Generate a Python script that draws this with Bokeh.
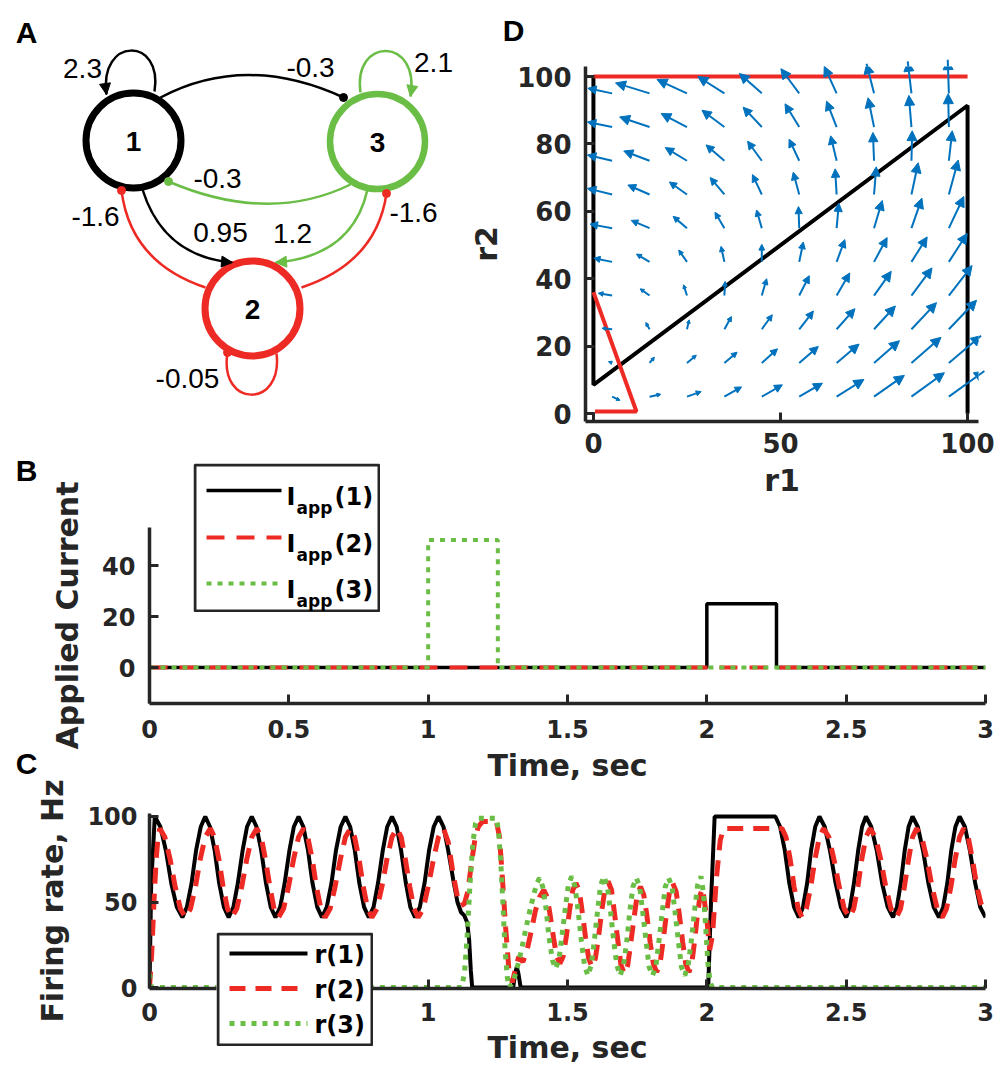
import math
from bokeh.plotting import figure
from bokeh.models import (Range1d, FixedTicker, Arrow, NormalHead, ColumnDataSource)
from bokeh.layouts import column
from bokeh.embed import file_html
from bokeh.resources import INLINE
from bokeh.core.properties import value, field

BLACK = "#000000"
RED = "#EE2A24"
GREEN = "#6ABD45"
BLUE = "#0072BD"
AXC = "#262626"
TXT_FONT = "Liberation Sans"
AX_FONT = "DejaVu Sans"

# ======================= DATA =======================
# ---- Panel A: network ----
node_labels = ["1", "2", "3"]
self_weights = ["2.3", "-0.05", "2.1"]              # self loops of 1, 2, 3
pair_weights = ["-0.3", "-0.3", "0.95", "1.2", "-1.6", "-1.6"]  # 1->3, 3->1, 1->2, 3->2, 2->1, 2->3

# ---- Panel B: applied currents ----
t_I1 = [0, 2, 2, 2.25, 2.25, 3]
I1 = [0, 0, 25, 25, 0, 0]
t_I2 = [0, 3]
I2 = [0, 0]
t_I3 = [0, 1, 1, 1.25, 1.25, 3]
I3 = [0, 0, 50, 50, 0, 0]
time_ticks = [0, 0.5, 1, 1.5, 2, 2.5, 3]
time_tick_labels = ["0", "0.5", "1", "1.5", "2", "2.5", "3"]
current_ticks = [0, 20, 40]
rate_ticks = [0, 50, 100]
legend_B = ["(1)", "(2)", "(3)"]
legend_C = ["r(1)", "r(2)", "r(3)"]

# ---- Panel C: firing rates ----
r1_t = [0, 0.006, 0.019,
        0.039, 0.059, 0.078, 0.098, 0.118,
        0.134, 0.151, 0.167, 0.184, 0.200,
        0.217, 0.234, 0.250, 0.267, 0.284,
        0.301, 0.317, 0.334, 0.350, 0.367,
        0.384, 0.401, 0.418, 0.435, 0.452,
        0.469, 0.485, 0.502, 0.518, 0.535,
        0.552, 0.569, 0.585, 0.602, 0.619,
        0.636, 0.653, 0.669, 0.686, 0.703,
        0.720, 0.737, 0.753, 0.770, 0.787,
        0.804, 0.820, 0.837, 0.853, 0.870,
        0.887, 0.903, 0.920, 0.936, 0.953,
        0.970, 0.987, 1.003, 1.020, 1.037,
        1.055, 1.072, 1.090, 1.105, 1.118, 1.130, 1.140, 1.147, 1.153, 1.158,
        1.305, 1.312, 1.318, 1.324, 1.332,
        2.005, 2.015, 2.028, 2.246,
        2.263, 2.280, 2.296, 2.313, 2.330,
        2.345, 2.360, 2.374, 2.389, 2.404,
        2.423, 2.442, 2.462, 2.481, 2.500,
        2.514, 2.528, 2.543, 2.557, 2.571,
        2.590, 2.610, 2.629, 2.649, 2.668,
        2.682, 2.696, 2.710, 2.724, 2.738,
        2.757, 2.776, 2.795, 2.814, 2.833,
        2.848, 2.863, 2.877, 2.892, 2.907,
        2.926, 2.944, 2.963, 2.981, 3.000]
r1_v = [0, 60, 100,
        94, 80, 61, 47, 41,
        47, 61, 80, 94, 100,
        94, 80, 61, 47, 41,
        47, 61, 80, 94, 100,
        94, 80, 61, 47, 41,
        47, 61, 80, 94, 100,
        94, 80, 61, 47, 41,
        47, 61, 80, 94, 100,
        94, 80, 61, 47, 41,
        47, 61, 80, 94, 100,
        94, 80, 61, 47, 41,
        47, 61, 80, 94, 100,
        94, 80, 63, 50, 44, 42, 38, 28, 10, 0,
        0, 8, 12, 8, 0,
        0, 50, 100, 100,
        94, 80, 61, 47, 41,
        47, 61, 80, 94, 100,
        94, 80, 61, 47, 41,
        47, 61, 80, 94, 100,
        94, 80, 61, 47, 41,
        47, 61, 80, 94, 100,
        94, 80, 61, 47, 41,
        47, 61, 80, 94, 100,
        94, 80, 61, 47, 41]

r2_t = [0, 0.008, 0.016, 0.024, 0.030, 0.037,
        0.055, 0.074, 0.092, 0.111, 0.129,
        0.147, 0.165, 0.182, 0.200, 0.218,
        0.233, 0.249, 0.264, 0.280, 0.295,
        0.313, 0.331, 0.349, 0.367, 0.385,
        0.401, 0.416, 0.432, 0.447, 0.463,
        0.481, 0.499, 0.517, 0.535, 0.553,
        0.568, 0.584, 0.599, 0.615, 0.630,
        0.648, 0.666, 0.685, 0.703, 0.721,
        0.736, 0.752, 0.767, 0.783, 0.798,
        0.816, 0.834, 0.852, 0.870, 0.888,
        0.903, 0.918, 0.934, 0.949, 0.964,
        0.982, 1.000, 1.019, 1.037, 1.055,
        1.072, 1.090, 1.105, 1.118, 1.130, 1.142, 1.155, 1.168, 1.180, 1.195, 1.245,
        1.256, 1.266, 1.278, 1.290, 1.302, 1.315, 1.325, 1.340, 1.355, 1.370, 1.385, 1.400, 1.415,
        1.427, 1.438, 1.450, 1.461, 1.473,
        1.484, 1.496, 1.507, 1.519, 1.530,
        1.542, 1.553, 1.565, 1.576, 1.588,
        1.600, 1.611, 1.623, 1.634, 1.646,
        1.658, 1.669, 1.681, 1.692, 1.704,
        1.716, 1.727, 1.739, 1.750, 1.762,
        1.774, 1.785, 1.797, 1.808, 1.820,
        1.832, 1.843, 1.855, 1.866, 1.878,
        1.890, 1.901, 1.913, 1.924, 1.936,
        1.946, 1.956, 1.966, 1.976, 1.985,
        2.000, 2.010, 2.020, 2.035, 2.048, 2.060, 2.270,
        2.284, 2.299, 2.313, 2.328, 2.342,
        2.357, 2.373, 2.388, 2.404, 2.419,
        2.438, 2.456, 2.475, 2.493, 2.512,
        2.527, 2.542, 2.556, 2.571, 2.586,
        2.605, 2.624, 2.642, 2.661, 2.680,
        2.695, 2.709, 2.724, 2.738, 2.753,
        2.771, 2.790, 2.808, 2.827, 2.845,
        2.860, 2.876, 2.891, 2.907, 2.922,
        2.938, 2.953, 2.969, 2.984, 3.000]
r2_v = [0, 20, 50, 75, 87, 93,
        88, 75, 59, 46, 41,
        46, 59, 75, 88, 93,
        88, 75, 59, 46, 41,
        46, 59, 75, 88, 93,
        88, 75, 59, 46, 41,
        46, 59, 75, 88, 93,
        88, 75, 59, 46, 41,
        46, 59, 75, 88, 93,
        88, 75, 59, 46, 41,
        46, 59, 75, 88, 93,
        88, 75, 59, 46, 41,
        46, 59, 75, 88, 93,
        85, 66, 53, 48, 49, 56, 72, 87, 94, 97, 97,
        88, 65, 35, 10, 3, 12, 18, 15, 22, 33, 45, 53, 57,
        53, 42, 29, 18, 14,
        18, 30, 45, 57, 61,
        57, 44, 29, 17, 12,
        17, 29, 45, 57, 62,
        57, 43, 27, 13, 8,
        13, 26, 41, 54, 59,
        54, 42, 26, 14, 9,
        14, 27, 43, 56, 61,
        56, 43, 27, 14, 9,
        14, 27, 42, 54, 58,
        40, 22, 30, 65, 86, 93, 93,
        88, 75, 59, 46, 41,
        46, 59, 75, 88, 93,
        88, 75, 59, 46, 41,
        46, 59, 75, 88, 93,
        88, 75, 59, 46, 41,
        46, 59, 75, 88, 93,
        88, 75, 59, 46, 41,
        46, 59, 75, 88, 93,
        88, 75, 59, 49, 44]

r3_t = [0, 0.008, 1.120, 1.130, 1.140, 1.150, 1.160, 1.170, 1.180, 1.245,
        1.252, 1.260, 1.268, 1.276, 1.284, 1.290,
        1.305, 1.320, 1.335, 1.350, 1.365, 1.380, 1.390, 1.400,
        1.411, 1.423, 1.434, 1.446, 1.457,
        1.469, 1.480, 1.492, 1.503, 1.515,
        1.527, 1.538, 1.550, 1.561, 1.573,
        1.585, 1.596, 1.608, 1.619, 1.631,
        1.643, 1.654, 1.666, 1.677, 1.689,
        1.701, 1.712, 1.724, 1.735, 1.747,
        1.759, 1.770, 1.782, 1.793, 1.805,
        1.817, 1.828, 1.840, 1.851, 1.863,
        1.875, 1.886, 1.898, 1.909, 1.921,
        1.933, 1.944, 1.956, 1.967, 1.979,
        1.988, 1.996, 2.004, 2.012, 2.020, 3.000]
r3_v = [8, 0, 0, 8, 30, 60, 84, 96, 99, 99,
        92, 75, 50, 22, 6, 0,
        3, 12, 22, 34, 45, 55, 61, 64,
        59, 46, 29, 16, 11,
        16, 30, 46, 60, 65,
        59, 45, 27, 13, 7,
        13, 27, 45, 60, 65,
        59, 45, 27, 13, 7,
        13, 26, 45, 59, 64,
        59, 44, 27, 12, 7,
        12, 27, 44, 59, 64,
        59, 44, 27, 12, 7,
        13, 27, 45, 60, 65,
        55, 35, 14, 3, 0, 0]

assert len(r1_t) == len(r1_v) and len(r2_t) == len(r2_v) and len(r3_t) == len(r3_v)

# ---- Panel D: phase plane ----
grid_r1 = [5, 15, 25, 35, 45, 55, 65, 75, 85, 95]
grid_r2 = [95, 85, 75, 65, 55, 45, 35, 25, 15, 5]
quiver_u = [
    [-6.5, -9.1, -8.0, -7.1, -6.0, -4.9, -3.3, -2.0, -1.0, -0.3],
    [-6.6, -8.0, -6.9, -6.0, -5.0, -3.8, -2.7, -1.6, -0.7, -0.2],
    [-6.6, -6.9, -5.8, -4.9, -3.8, -2.7, -1.6, -0.3, 0.2, 0.9],
    [-6.6, -5.8, -4.7, -3.8, -2.5, -1.6, -0.4, 0.6, 1.8, 2.5],
    [-5.9, -4.9, -3.7, -2.5, -1.4, -0.2, 0.6, 2.2, 2.8, 4.0],
    [-4.9, -3.5, -2.2, -0.9, 0.0, 1.1, 2.2, 3.5, 4.2, 4.9],
    [-3.7, -2.5, -0.9, 0.2, 1.3, 2.7, 3.5, 4.6, 5.5, 6.2],
    [-2.7, -1.0, 0.6, 1.9, 2.8, 3.8, 4.9, 5.7, 6.7, 7.4],
    [-1.0, 1.3, 2.5, 3.4, 4.2, 5.1, 6.0, 6.8, 7.9, 8.6],
    [2.1, 3.0, 3.8, 4.6, 5.5, 6.2, 7.3, 8.1, 8.8, 9.5],
]
quiver_v = [
    [1.5, 3.1, 4.1, 5.0, 5.9, 7.3, 8.0, 8.8, 9.5, 10.0],
    [1.5, 3.0, 4.0, 5.0, 5.9, 6.9, 7.7, 8.7, 9.4, 9.9],
    [1.7, 2.9, 3.9, 4.7, 5.8, 6.4, 7.4, 8.4, 8.9, 8.9],
    [1.8, 2.8, 3.7, 5.0, 5.9, 6.6, 7.6, 8.2, 9.4, 10.2],
    [1.2, 2.3, 3.5, 4.7, 5.4, 6.4, 7.4, 8.2, 8.9, 9.4],
    [1.1, 2.3, 3.5, 4.6, 5.2, 5.9, 6.6, 7.2, 7.4, 8.4],
    [0.7, 2.0, 3.2, 4.2, 5.0, 5.9, 6.7, 7.2, 8.2, 8.9],
    [0.3, 2.0, 2.8, 3.8, 4.3, 5.4, 6.1, 6.9, 7.9, 8.6],
    [0.4, 1.7, 2.3, 3.2, 4.2, 4.9, 5.6, 6.6, 7.6, 8.1],
    [-1.1, 0.7, 1.5, 2.9, 3.5, 4.0, 5.1, 6.3, 7.1, 7.6],
]
null1_r1 = [0, 0, 100, 100]
null1_r2 = [100, 8.5, 91.4, 0]
null2a_r1 = [0, 100]
null2a_r2 = [100, 100]
null2b_r1 = [0, 11.5, 0.4]
null2b_r2 = [36, 0.6, 0.6]
d_xticks = [0, 50, 100]
d_yticks = [0, 20, 40, 60, 80, 100]


# ======================= HELPERS =======================
def style_axes(p, tick_px, lab_px, xs_tick, xs_lab, ys_tick, ys_lab):
    for ax in p.axis:
        ax.axis_line_color = AXC
        ax.axis_line_width = 3.5
        ax.major_tick_line_color = AXC
        ax.major_tick_line_width = 3
        ax.major_tick_in = 9
        ax.major_tick_out = 0
        ax.minor_tick_line_color = None
        ax.major_label_text_font = AX_FONT
        ax.major_label_text_font_style = "bold"
        ax.major_label_text_font_size = f"{tick_px}px"
        ax.major_label_text_color = AXC
        ax.axis_label_text_font = AX_FONT
        ax.axis_label_text_font_style = "bold"
        ax.axis_label_text_font_size = f"{lab_px}px"
        ax.axis_label_text_color = AXC
    p.xaxis.major_label_standoff = xs_tick
    p.xaxis.axis_label_standoff = xs_lab
    p.yaxis.major_label_standoff = ys_tick
    p.yaxis.axis_label_standoff = ys_lab
    p.xgrid.visible = False
    p.ygrid.visible = False
    p.outline_line_color = None
    p.border_fill_color = None
    p.background_fill_color = None


def canvas(w, h):
    c = figure(width=w, height=h, x_range=Range1d(0, w), y_range=Range1d(h, 0),
               min_border=0, toolbar_location=None, tools="", output_backend="svg",
               x_axis_location=None, y_axis_location=None, title_location=None)
    c.grid.visible = False
    c.outline_line_color = None
    return c


# ======================= BACKGROUND (panel A + letters) =======================
pBG = canvas(1000, 1072)

node_x = [133, 252, 377]
node_y = [140, 308, 141]
node_col = [BLACK, RED, GREEN]
node_lw = [7, 7, 6.5]

loops = [  # x0, y0, cx0, cy0, cx1, cy1, x1, y1
    (154, 91, 163, 36, 98, 36, 106, 94),
    (227, 352, 218, 408, 283, 408, 276, 353),
    (360, 92, 352, 36, 420, 36, 410, 96),
]
loop_col = [BLACK, RED, GREEN]
pBG.bezier(x0=[l[0] for l in loops], y0=[l[1] for l in loops],
           cx0=[l[2] for l in loops], cy0=[l[3] for l in loops],
           cx1=[l[4] for l in loops], cy1=[l[5] for l in loops],
           x1=[l[6] for l in loops], y1=[l[7] for l in loops],
           line_color=loop_col, line_width=2.5)

arcs = [  # x0, y0, cx, cy, x1, y1
    (160, 97, 245, 52, 343, 97),
    (350, 184, 268, 224, 168, 181),
    (142, 189, 163, 256, 232, 262),
    (367, 189, 352, 256, 275, 262),
    (205, 287, 130, 262, 121, 190),
    (301, 287, 376, 262, 386, 193),
]
arc_col = [BLACK, GREEN, BLACK, GREEN, RED, RED]
arc_end = ["dot", "dot", "arrow", "arrow", "dot", "dot"]
pBG.quadratic(x0=[a[0] for a in arcs], y0=[a[1] for a in arcs],
              cx=[a[2] for a in arcs], cy=[a[3] for a in arcs],
              x1=[a[4] for a in arcs], y1=[a[5] for a in arcs],
              line_color=arc_col, line_width=2.5)

pBG.circle(x=node_x, y=node_y, radius=47.5, fill_color="white", line_color=node_col,
           line_width=node_lw)


def add_head(p, ex, ey, px, py, col):
    dx, dy = ex - px, ey - py
    n = math.hypot(dx, dy)
    sx, sy = ex - dx / n * 6, ey - dy / n * 6
    p.add_layout(Arrow(end=NormalHead(size=11, fill_color=col, line_color=col, line_width=1),
                       x_start=sx, y_start=sy, x_end=ex, y_end=ey, line_alpha=0))


dot_x, dot_y, dot_c = [227], [352], [RED]
for a, c, e in zip(arcs, arc_col, arc_end):
    if e == "dot":
        dot_x.append(a[4]); dot_y.append(a[5]); dot_c.append(c)
    else:
        add_head(pBG, a[4], a[5], a[2], a[3], c)
add_head(pBG, loops[0][6], loops[0][7], loops[0][4], loops[0][5], BLACK)
add_head(pBG, loops[2][6], loops[2][7], loops[2][4], loops[2][5], GREEN)
pBG.scatter(x=dot_x, y=dot_y, size=8, color=dot_c, marker="circle")

pBG.text(x=node_x, y=[v + 1 for v in node_y], text=node_labels, text_font=value(TXT_FONT),
         text_font_style="bold", text_font_size=value("28px"), text_color=BLACK,
         text_align="center", text_baseline="middle")

self_lab_x = [82, 187, 433]
self_lab_y = [68, 378, 62]
pair_lab_x = [310, 217, 220, 292, 95, 413]
pair_lab_y = [67, 178, 232, 233, 216, 212]
pBG.text(x=self_lab_x + pair_lab_x, y=self_lab_y + pair_lab_y, text=self_weights + pair_weights,
         text_font=value(TXT_FONT), text_font_size=value("28px"), text_color=BLACK,
         text_align="center", text_baseline="middle")

letters = ["A", "B", "C", "D"]
letter_x = [26, 26, 26, 513]
letter_y = [32, 470, 763, 30]
pBG.text(x=letter_x, y=letter_y, text=letters, text_font=value(TXT_FONT),
         text_font_style="bold", text_font_size=value("30px"), text_color=BLACK,
         text_align="center", text_baseline="middle")

# ======================= PANEL D =======================
pD = figure(width=528, height=506, x_range=Range1d(-2.12, 102.92), y_range=Range1d(-2.37, 102.97),
            min_border_left=116, min_border_right=16, min_border_top=66, min_border_bottom=85,
            toolbar_location=None, tools="", output_backend="svg", title_location=None)
pD.line(null1_r1, null1_r2, line_color=BLACK, line_width=4)
pD.line(null2a_r1, null2a_r2, line_color=RED, line_width=4)
pD.line(null2b_r1, null2b_r2, line_color=RED, line_width=4)

qx0, qy0, qx1, qy1, hs = [], [], [], [], []
for i, yv in enumerate(grid_r2):
    for j, xv in enumerate(grid_r1):
        u, v = quiver_u[i][j], quiver_v[i][j]
        qx0.append(xv); qy0.append(yv); qx1.append(xv + u); qy1.append(yv + v)
        L = math.hypot(u * 3.77, v * 3.37)
        hs.append(max(3.5, min(10.0, 0.33 * L)))
qsrc = ColumnDataSource(dict(x0=qx0, y0=qy0, x1=qx1, y1=qy1, hs=hs))
pD.add_layout(Arrow(end=NormalHead(size=field("hs"), fill_color=BLUE, line_color=BLUE, line_width=1),
                    x_start="x0", y_start="y0", x_end="x1", y_end="y1", source=qsrc,
                    line_color=BLUE, line_width=2))
pD.xaxis.ticker = FixedTicker(ticks=d_xticks)
pD.yaxis.ticker = FixedTicker(ticks=d_yticks)
pD.xaxis.axis_label = "r1"
pD.yaxis.axis_label = "r2"
style_axes(pD, 26, 30, 11, 7, 14, 10)

# ======================= PANEL B =======================
pB = figure(width=994, height=314, x_range=Range1d(0, 3), y_range=Range1d(-14.1, 54.9),
            min_border_left=149, min_border_right=9, min_border_top=51, min_border_bottom=87,
            toolbar_location=None, tools="", output_backend="svg", title_location=None)
pB.line(t_I1, I1, line_color=BLACK, line_width=3.5)
pB.line(t_I2, I2, line_color=RED, line_width=4, line_dash="18 12")
pB.line(t_I3, I3, line_color=GREEN, line_width=4, line_dash="5 6")
pB.xaxis.ticker = FixedTicker(ticks=time_ticks)
pB.xaxis.major_label_overrides = {t: s for t, s in zip(time_ticks, time_tick_labels)}
pB.yaxis.ticker = FixedTicker(ticks=current_ticks)
pB.xaxis.axis_label = "Time, sec"
pB.yaxis.axis_label = "Applied Current"
style_axes(pB, 24, 30, 16, 7, 14, 14)

# ======================= PANEL C =======================
pC = figure(width=994, height=302, x_range=Range1d(0, 3), y_range=Range1d(-0.58, 101.75),
            min_border_left=149, min_border_right=9, min_border_top=43, min_border_bottom=84,
            toolbar_location=None, tools="", output_backend="svg", title_location=None)
pC.line(r1_t, r1_v, line_color=BLACK, line_width=4)
pC.line(r2_t, r2_v, line_color=RED, line_width=5, line_dash="16 10")
pC.line(r3_t, r3_v, line_color=GREEN, line_width=5, line_dash="5 6")
pC.xaxis.ticker = FixedTicker(ticks=time_ticks)
pC.xaxis.major_label_overrides = {t: s for t, s in zip(time_ticks, time_tick_labels)}
pC.yaxis.ticker = FixedTicker(ticks=rate_ticks)
pC.xaxis.axis_label = "Time, sec"
pC.yaxis.axis_label = "Firing rate, Hz"
style_axes(pC, 24, 30, 14, 6, 12, 14)

# ======================= LEGENDS =======================
legB = canvas(187, 149)
legB.quad(left=[1.5], right=[185.5], top=[1.5], bottom=[147.5], fill_color="white",
          line_color=AXC, line_width=3)
ib = [27, 74, 120]
legB.line([13, 88], [ib[0], ib[0]], line_color=BLACK, line_width=3.5)
legB.line([13, 88], [ib[1], ib[1]], line_color=RED, line_width=4, line_dash="18 12")
legB.line([13, 88], [ib[2], ib[2]], line_color=GREEN, line_width=4, line_dash="5 6")
legB.text(x=[93] * 3, y=[c + 6 for c in ib], text=["I"] * 3, text_font=value(AX_FONT),
          text_font_style="bold", text_font_size=value("24px"), text_color=BLACK,
          text_align="left", text_baseline="alphabetic")
legB.text(x=[103] * 3, y=[c + 17 for c in ib], text=["app"] * 3, text_font=value(AX_FONT),
          text_font_style="bold", text_font_size=value("17px"), text_color=BLACK,
          text_align="left", text_baseline="alphabetic")
legB.text(x=[141] * 3, y=[c + 6 for c in ib], text=legend_B, text_font=value(AX_FONT),
          text_font_style="bold", text_font_size=value("24px"), text_color=BLACK,
          text_align="left", text_baseline="alphabetic")

legC = canvas(157, 114)
legC.quad(left=[1.5], right=[155.5], top=[1.5], bottom=[112.5], fill_color="white",
          line_color=AXC, line_width=3)
ic = [21, 56, 91]
legC.line([13, 91], [ic[0], ic[0]], line_color=BLACK, line_width=4)
legC.line([13, 91], [ic[1], ic[1]], line_color=RED, line_width=5, line_dash="16 10")
legC.line([13, 91], [ic[2], ic[2]], line_color=GREEN, line_width=5, line_dash="5 6")
legC.text(x=[98] * 3, y=[c + 1 for c in ic], text=legend_C, text_font=value(AX_FONT),
          text_font_style="bold", text_font_size=value("24px"), text_color=BLACK,
          text_align="left", text_baseline="middle")

layout = column(
    pBG,
    column(pD, margin=(-1072, 0, 0, 466)),
    column(pB, margin=(-30, 0, 0, 0)),
    column(pC, margin=(-20, 0, 0, 0)),
    column(legB, margin=(-609, 0, 0, 193)),
    column(legC, margin=(320, 0, 0, 216)),
)
open("out.html", "w").write(file_html(layout, INLINE))
